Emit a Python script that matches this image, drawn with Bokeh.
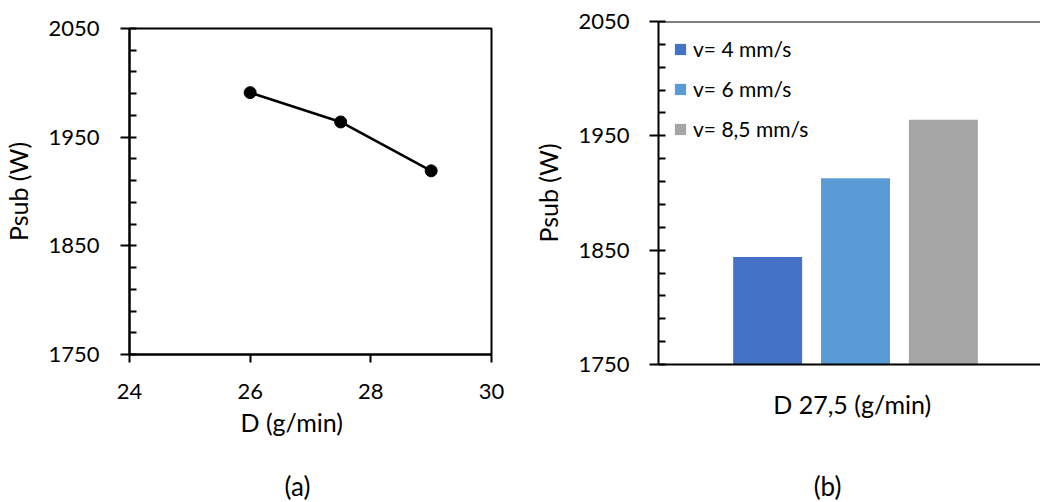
from bokeh.plotting import figure
from bokeh.layouts import row, column
from bokeh.models import (Range1d, FixedTicker, Title, Span, Legend, LegendItem,
                          ColumnDataSource, Label)
from bokeh.embed import file_html
from bokeh.resources import INLINE

# ---- data ----
d_values = [26, 27.5, 29]
psub_line = [1991, 1964, 1919]

bar_category = "D 27,5  (g/min)"
bar_series = ["v= 4 mm/s", "v= 6 mm/s", "v= 8,5 mm/s"]
bar_values = [1844, 1913, 1964]
bar_colors = ["#4472C4", "#5B9BD5", "#A5A5A5"]

y_ticks = [1750, 1850, 1950, 2050]
x_ticks = [24, 26, 28, 30]
panel_tags = ["(a)", "(b)"]

FONT = "Lato"
TICK_FS = "22px"
LABEL_FS = "25px"


def style_y(ax, standoff):
    ax.ticker = FixedTicker(ticks=y_ticks, minor_ticks=list(range(1750, 2051, 20)))
    ax.axis_line_width = 2
    ax.axis_line_color = "black"
    ax.major_tick_line_width = 2
    ax.minor_tick_line_width = 2
    ax.major_tick_line_color = "black"
    ax.minor_tick_line_color = "black"
    ax.major_tick_out = 9
    ax.major_tick_in = 0
    ax.minor_tick_in = 7
    ax.minor_tick_out = 0
    ax.major_label_text_font = FONT
    ax.major_label_text_font_size = TICK_FS
    ax.major_label_text_color = "black"
    ax.major_label_standoff = standoff
    ax.axis_label = "Psub (W)"
    ax.axis_label_text_font = FONT
    ax.axis_label_text_font_size = LABEL_FS
    ax.axis_label_text_font_style = "normal"
    ax.axis_label_text_color = "black"
    ax.axis_label_standoff = 12


# ---- left panel (a) ----
p1 = figure(width=530, height=462, x_range=(24, 30), y_range=(1750, 2050),
            output_backend="svg", toolbar_location=None,
            min_border_left=129, min_border_right=39,
            min_border_top=28, min_border_bottom=108)
p1.frame_align = False
p1.grid.visible = False
p1.outline_line_color = "black"
p1.outline_line_width = 2
p1.outline_line_alpha = 1
style_y(p1.yaxis[0], 21)
xa = p1.xaxis[0]
xa.ticker = FixedTicker(ticks=x_ticks)
xa.axis_line_width = 2
xa.major_tick_line_width = 2
xa.major_tick_out = 8
xa.major_tick_in = 0
xa.minor_tick_line_color = None
xa.major_label_text_font = FONT
xa.major_label_text_font_size = TICK_FS
xa.major_label_text_color = "black"
xa.major_label_standoff = 21

p1.line(d_values, psub_line, line_color="black", line_width=2.5)
p1.scatter(d_values, psub_line, size=12, fill_color="black", line_color="black")
p1.add_layout(Title(text="D (g/min)", align="left", offset=111, standoff=8,
                    vertical_align="middle", text_font=FONT, text_font_size=LABEL_FS,
                    text_font_style="normal", text_color="black"), "below")

# ---- right panel (b) ----
p2 = figure(width=510, height=462, x_range=Range1d(0, 382 / 394), y_range=(1750, 2050),
            output_backend="svg", toolbar_location=None,
            min_border_left=128, min_border_right=0,
            min_border_top=21, min_border_bottom=98)
p2.frame_align = False
p2.grid.visible = False
p2.outline_line_color = None
style_y(p2.yaxis[0], 20)
xb = p2.xaxis[0]
xb.ticker = FixedTicker(ticks=[0.5])
xb.major_label_overrides = {0.5: bar_category}
xb.axis_line_width = 2
xb.major_tick_line_color = None
xb.minor_tick_line_color = None
xb.major_label_text_font = FONT
xb.major_label_text_font_size = LABEL_FS
xb.major_label_text_color = "black"
xb.major_label_standoff = 18
p2.add_layout(Span(location=2050, dimension="width", line_color="black", line_width=2))

offsets = [-0.223, 0.0, 0.223]
items = []
for name, val, col, off in zip(bar_series, bar_values, bar_colors, offsets):
    src = ColumnDataSource(dict(x=[0.5 + off], top=[val]))
    r = p2.vbar(x="x", top="top", bottom=1750, width=0.175, source=src,
                fill_color=col, line_color=None)
    items.append(LegendItem(label=name, renderers=[r]))

leg = Legend(items=items, location="top_left", border_line_color=None,
             background_fill_alpha=0, glyph_width=14, glyph_height=14,
             label_text_font=FONT, label_text_font_size="21px",
             label_text_color="black", label_height=22, spacing=15,
             margin=15, padding=7, label_standoff=6)
p2.add_layout(leg)


# ---- caption strips "(a)" / "(b)" ----
def caption_strip(width, text, sx):
    s = figure(width=width, height=40, x_range=(0, 1), y_range=(0, 1),
               output_backend="svg", toolbar_location=None,
               x_axis_location=None, y_axis_location=None, min_border=0)
    s.frame_align = False
    s.grid.visible = False
    s.outline_line_color = None
    s.add_layout(Label(x=sx, y=17, x_units="screen", y_units="screen", text=text,
                       text_align="center", text_baseline="middle",
                       text_font=FONT, text_font_size="26px", text_color="black"))
    return s


sa = caption_strip(530, panel_tags[0], 297)
sb = caption_strip(510, panel_tags[1], 297)

layout = column(row(p1, p2), row(sa, sb))
open("out.html", "w").write(file_html(layout, INLINE))
